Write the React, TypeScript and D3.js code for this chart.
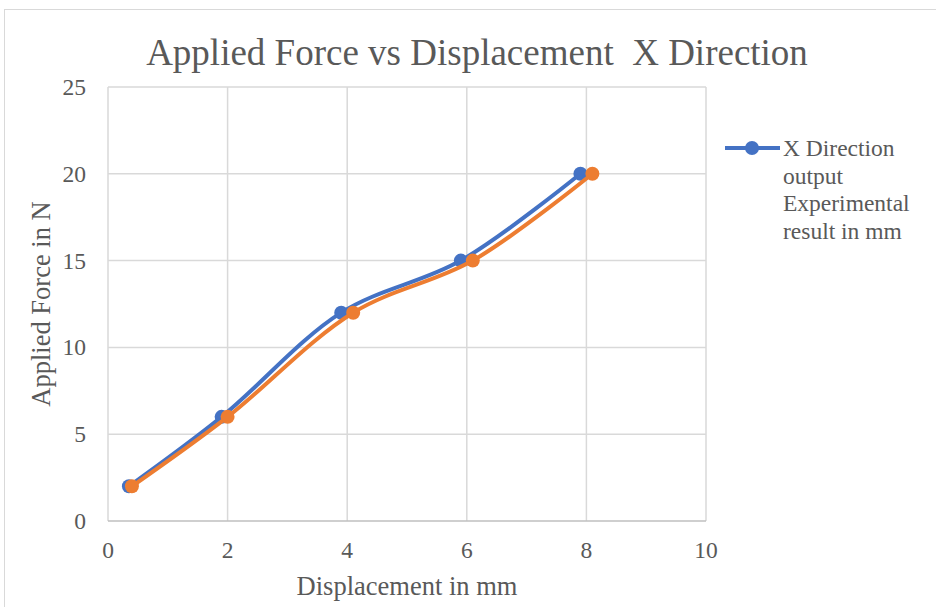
import React, { useEffect, useRef } from "react";
import * as d3 from "d3";

const forces = [2, 6, 12, 15, 20];
const blueX = [0.35, 1.9, 3.9, 5.9, 7.9];
const orangeX = [0.4, 2.0, 4.1, 6.1, 8.1];
const xTicks = [0, 2, 4, 6, 8, 10];
const yTicks = [0, 5, 10, 15, 20, 25];
const legendLines = ["X Direction", "output", "Experimental", "result in mm"];

const App = () => {
  const svgRef = useRef<SVGSVGElement>(null);

  useEffect(() => {
    const width = 936,
      height = 607;
    const margin = { top: 87, right: 230, bottom: 86, left: 108 };
    const font = "'Liberation Serif', 'Times New Roman', serif";
    const textColor = "#595959";

    const root = d3.select(svgRef.current);
    root.selectAll("*").remove();
    const svg = root.attr("width", width).attr("height", height);

    svg
      .append("rect")
      .attr("x", 4.5)
      .attr("y", 9.5)
      .attr("width", width + 10)
      .attr("height", height + 10)
      .attr("fill", "white")
      .attr("stroke", "#d9d9d9");

    const x = d3
      .scaleLinear()
      .domain([0, 10])
      .range([margin.left, width - margin.right]);
    const y = d3
      .scaleLinear()
      .domain([0, 25])
      .range([height - margin.bottom, margin.top]);

    // gridlines
    svg
      .append("g")
      .selectAll("line")
      .data(xTicks)
      .enter()
      .append("line")
      .attr("x1", (d) => x(d))
      .attr("x2", (d) => x(d))
      .attr("y1", y(0))
      .attr("y2", y(25))
      .attr("stroke", "#d9d9d9")
      .attr("stroke-width", 1.5);

    svg
      .append("g")
      .selectAll("line")
      .data(yTicks)
      .enter()
      .append("line")
      .attr("x1", x(0))
      .attr("x2", x(10))
      .attr("y1", (d) => y(d))
      .attr("y2", (d) => y(d))
      .attr("stroke", (d) => (d === 0 ? "#bfbfbf" : "#d9d9d9"))
      .attr("stroke-width", 1.5);

    // tick labels
    svg
      .append("g")
      .selectAll("text")
      .data(xTicks)
      .enter()
      .append("text")
      .attr("x", (d) => x(d))
      .attr("y", y(0) + 37)
      .attr("text-anchor", "middle")
      .attr("font-family", font)
      .attr("font-size", 23.5)
      .attr("fill", textColor)
      .text((d) => d);

    svg
      .append("g")
      .selectAll("text")
      .data(yTicks)
      .enter()
      .append("text")
      .attr("x", x(0) - 22)
      .attr("y", (d) => y(d) + 8)
      .attr("text-anchor", "end")
      .attr("font-family", font)
      .attr("font-size", 23.5)
      .attr("fill", textColor)
      .text((d) => d);

    const line = d3
      .line<[number, number]>()
      .x((d) => x(d[0]))
      .y((d) => y(d[1]))
      .curve(d3.curveCatmullRom.alpha(0.5));

    const series = [
      { xs: blueX, color: "#4472c4" },
      { xs: orangeX, color: "#ed7d31" },
    ];

    series.forEach((s) => {
      const pts: [number, number][] = s.xs.map((v, i) => [v, forces[i]]);
      svg
        .append("path")
        .datum(pts)
        .attr("d", line)
        .attr("fill", "none")
        .attr("stroke", s.color)
        .attr("stroke-width", 4)
        .attr("stroke-linecap", "round");
      svg
        .append("g")
        .selectAll("circle")
        .data(pts)
        .enter()
        .append("circle")
        .attr("cx", (d) => x(d[0]))
        .attr("cy", (d) => y(d[1]))
        .attr("r", 7)
        .attr("fill", s.color);
    });

    // title
    svg
      .append("text")
      .attr("x", 477)
      .attr("y", 65)
      .attr("text-anchor", "middle")
      .attr("font-family", font)
      .attr("font-size", 37)
      .attr("fill", textColor)
      .style("white-space", "pre")
      .text("Applied Force vs Displacement  X Direction");

    // axis titles
    svg
      .append("text")
      .attr("x", 407)
      .attr("y", 595)
      .attr("text-anchor", "middle")
      .attr("font-family", font)
      .attr("font-size", 26.5)
      .attr("fill", textColor)
      .text("Displacement in mm");

    svg
      .append("text")
      .attr("transform", `translate(50,${(y(0) + y(25)) / 2}) rotate(-90)`)
      .attr("text-anchor", "middle")
      .attr("font-family", font)
      .attr("font-size", 26.5)
      .attr("fill", textColor)
      .text("Applied Force in N");

    // legend
    const lg = svg.append("g");
    lg.append("line")
      .attr("x1", 725)
      .attr("x2", 780)
      .attr("y1", 148)
      .attr("y2", 148)
      .attr("stroke", "#4472c4")
      .attr("stroke-width", 4);
    lg.append("circle")
      .attr("cx", 752)
      .attr("cy", 148)
      .attr("r", 7)
      .attr("fill", "#4472c4");
    lg.selectAll("text")
      .data(legendLines)
      .enter()
      .append("text")
      .attr("x", 783)
      .attr("y", (d, i) => 156 + i * 27.5)
      .attr("font-family", font)
      .attr("font-size", 23.5)
      .attr("fill", textColor)
      .text((d) => d);
  }, []);

  return (
    <svg
      ref={svgRef}
      style={{ position: "absolute", left: 0, top: 0, display: "block" }}
    ></svg>
  );
};

export default App;
